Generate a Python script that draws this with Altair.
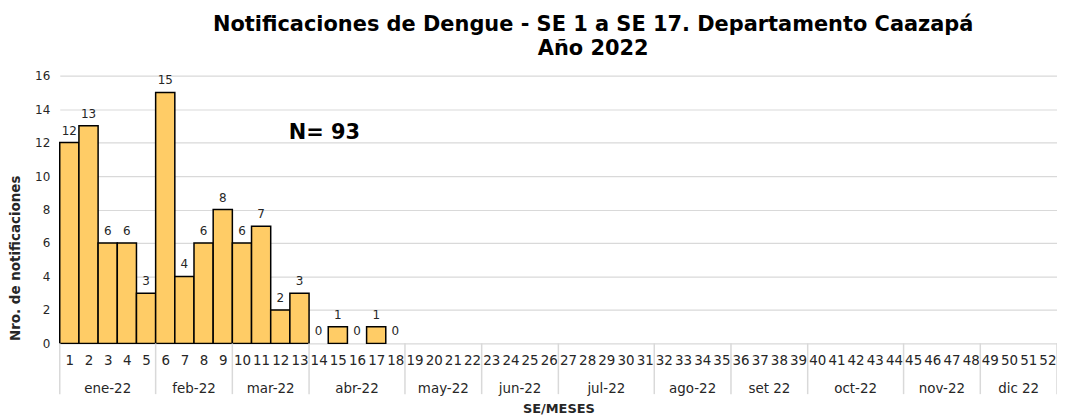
import altair as alt
import pandas as pd
import numpy as np

# ---- data ----
weeks = list(range(1, 53))
cases = [12, 13, 6, 6, 3, 15, 4, 6, 8, 6, 7, 2, 3, 0, 1, 0, 1, 0]
months = ["ene-22", "feb-22", "mar-22", "abr-22", "may-22", "jun-22",
          "jul-22", "ago-22", "set 22", "oct-22", "nov-22", "dic 22"]
weeks_per_month = [5, 4, 4, 5, 4, 4, 5, 4, 4, 5, 4, 4]
y_ticks = [0, 2, 4, 6, 8, 10, 12, 14, 16]

title_lines = ["Notificaciones de Dengue - SE 1 a SE 17. Departamento Caazapá", "Año 2022"]

W, H = 1002, 269
FONT = "DejaVu Sans"

bars_df = pd.DataFrame({"se": weeks[:len(cases)], "n": cases})
bars_df["x0"] = bars_df["se"] - 0.5
bars_df["x1"] = bars_df["se"] + 0.5

ends = np.cumsum(weeks_per_month)
starts = ends - np.array(weeks_per_month)
months_df = pd.DataFrame({"mes": months, "center": (starts + ends) / 2 + 0.5})
bounds_df = pd.DataFrame({"b": [0.5] + list(ends + 0.5)})
note_df = pd.DataFrame({"x": [14.3], "y": [12.6], "t": [f"N= {sum(cases)}"]})

xs = alt.Scale(domain=[0.5, 52.5], nice=False, zero=False)
ys = alt.Scale(domain=[0, 16], nice=False)

xaxis = alt.Axis(
    values=weeks, format="d", title="SE/MESES", ticks=False, domain=False,
    grid=False, labelFont=FONT, labelFontSize=13.5, labelColor="#262626",
    labelPadding=10, labelFlush=False, labelOverlap=False,
    titleFont=FONT, titleFontSize=13, titleFontWeight="bold", titleColor="#262626",
    titlePadding=36)
yaxis = alt.Axis(
    values=y_ticks, title="Nro. de notificaciones", ticks=False, domain=False,
    gridColor="#d9d9d9", gridWidth=1.2, labelFont=FONT, labelFontSize=12,
    labelColor="#262626", labelPadding=10, titleFont=FONT, titleFontSize=13.5,
    titleFontWeight="bold", titleColor="#262626", titlePadding=12, titleY=183)

bars = alt.Chart(bars_df).transform_filter("datum.n > 0").mark_bar(
    color="#FFCC66", stroke="black", strokeWidth=1.5
).encode(
    x=alt.X("x0:Q", scale=xs, axis=xaxis),
    x2="x1:Q",
    y=alt.Y("n:Q", scale=ys, axis=yaxis),
    y2=alt.datum(0),
)

labels = alt.Chart(bars_df).mark_text(
    font=FONT, fontSize=12, color="#262626", baseline="bottom", dy=-5
).encode(
    x=alt.X("se:Q", scale=xs, axis=xaxis),
    y=alt.Y("n:Q", scale=ys, axis=yaxis),
    text=alt.Text("n:Q", format="d"),
)

seps = alt.Chart(bounds_df).mark_rule(color="#d9d9d9", strokeWidth=1.5).encode(
    x=alt.X("b:Q", scale=xs, axis=xaxis),
    y=alt.value(H),
    y2=alt.value(H + 51),
)

month_text = alt.Chart(months_df).mark_text(
    font=FONT, fontSize=13.5, color="#262626", baseline="middle"
).encode(
    x=alt.X("center:Q", scale=xs, axis=xaxis),
    y=alt.value(H + 46),
    text="mes:N",
)

note = alt.Chart(note_df).mark_text(
    font=FONT, fontSize=21, fontWeight="bold", color="black", baseline="middle"
).encode(
    x=alt.X("x:Q", scale=xs, axis=xaxis),
    y=alt.Y("y:Q", scale=ys, axis=yaxis),
    text="t:N",
)

chart = alt.layer(bars, labels, seps, month_text, note).properties(
    width=W, height=H,
    autosize=alt.AutoSizeParams(type="none"),
    padding={"left": 52, "top": 67, "right": 0, "bottom": 72},
    title=alt.TitleParams(text=title_lines, font=FONT, fontSize=21, fontWeight="bold",
                          color="black", anchor="middle", dx=35, offset=11, lineHeight=24),
).configure_view(stroke=None)

chart.save("out.html", embed_options={"renderer": "svg", "actions": False})
